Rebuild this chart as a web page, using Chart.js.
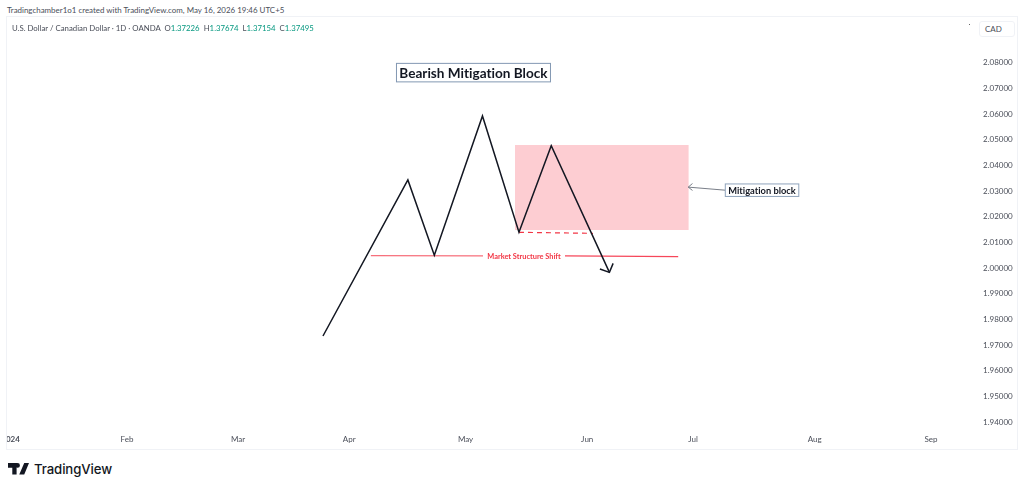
<!DOCTYPE html>
<html>
<head>
<meta charset="utf-8">
<script src="https://cdn.jsdelivr.net/npm/chart.js@4"></script>
<style>
    html, body { margin: 0; padding: 0; background: #fff; width: 1024px; height: 489px; overflow: hidden; }
    body { font-family: Lato, sans-serif; position: relative; }
    #credit { position: absolute; left: 7px; top: 4px; font-size: 7.95px; line-height: 12px; color: #4a4e59; white-space: nowrap; }
    #frame { position: absolute; left: 6px; top: 16px; width: 1010px; height: 432px; border: 1px solid #f0f2f6; }
    #chartBox { position: absolute; left: 0; top: 0; width: 1010px; height: 432px; }
    #legend { position: absolute; left: 12px; top: 22px; font-size: 7.8px; line-height: 12px; color: #4a4e59; white-space: pre; }
    #legend b { font-weight: normal; color: #089981; }
    #currency { position: absolute; left: 979px; top: 21px; width: 36px; height: 16px; box-sizing: border-box; border: 1px solid #f0f2f6; border-radius: 3px; font-size: 8px; line-height: 14px; color: #4a4e59; padding-left: 5px; background: #fff; }
    #dot { position: absolute; left: 969px; top: 24px; width: 1px; height: 1px; background: #666; }
    #logo { position: absolute; left: 8px; top: 460px; height: 18px; color: #131722; }
    #logo svg { position: absolute; left: 0; top: 3px; }
    #logo span { position: absolute; left: 26px; top: 0; font-family: Inter, sans-serif; font-size: 13.2px; line-height: 18px; font-weight: 500; letter-spacing: -0.1px; }
</style>
</head>
<body>
<div id="credit">Tradingchamber1o1 created with TradingView.com, May 16, 2026 19:46 UTC+5</div>
<div id="frame"><div id="chartBox"><canvas id="priceGraph"></canvas></div></div>
<div id="legend"></div>
<div id="currency">CAD</div>
<div id="dot"></div>
<div id="logo">
    <svg width="21" height="11.500" viewBox="0 0 22 12"><path fill="#131722" d="M0 0h9v12H4.500V5H0zM17 0h5l-5 12h-5.200zM10 0a2.500 2.500 0 1 1 0 5a2.500 2.500 0 0 1 0-5z"/></svg>
    <span>TradingView</span>
</div>
<script>
// x is the bar index on the chart (trading days since the start of 2024)
const monthTicks = [1, 23, 44, 65, 87, 110, 130, 153, 175]
const monthLabels = ["2024", "Feb", "Mar", "Apr", "May", "Jun", "Jul", "Aug", "Sep"]
const priceTicks = [2.08, 2.07, 2.06, 2.05, 2.04, 2.03, 2.02, 2.01, 2.00, 1.99, 1.98, 1.97, 1.96, 1.95, 1.94]

const swingX = [60.05, 76.1, 81.1, 90.2, 97.1, 103.2, 114.2]
const swingY = [1.9735, 2.0343, 2.0050, 2.0592, 2.0139, 2.0476, 1.9983]
const arrowX = [112.4, 114.2, 114.9]
const arrowY = [1.9996, 1.9983, 2.0018]

const blockX = [96.35, 129.2]
const blockTop = 2.0479
const blockBottom = 2.0148

const shiftLeftX = [69.1, 90.3]
const shiftLeftY = [2.0048, 2.0047]
const shiftRightX = [105.8, 127.2]
const shiftRightY = [2.0047, 2.0044]
const dashX = [97.1, 111.1]
const dashY = [2.0139, 2.0135]

const pointerX = [136.1, 129.1]
const pointerY = [2.0303, 2.0315]
const pointerHeadX = [129.9, 129.1, 129.9]
const pointerHeadY = [2.0329, 2.0315, 2.0302]

const ohlcNames = ["O", "H", "L", "C"]
const ohlcValues = ["1.37226", "1.37674", "1.37154", "1.37495"]

const xMin = 0.32
const xMax = 182.55
const yMin = 1.93688
const yMax = 2.09777

document.getElementById("legend").innerHTML = "U.S. Dollar / Canadian Dollar · 1D · OANDA  " +
    ohlcNames.map((n, i) => n + "<b>" + ohlcValues[i] + "</b>").join("  ")

const zip = (xs, ys) => xs.map((x, i) => ({ x: x, y: Array.isArray(ys) ? ys[i] : ys }))

function lineSet(xs, ys, color, width, extra) {
    return Object.assign({
        data: zip(xs, ys),
        borderColor: color,
        borderWidth: width,
        pointRadius: 0,
        tension: 0,
        fill: false
    }, extra)
}

// chart.js pads the scales for the tick labels, the chart here runs right up to the panel edges
function noPadding(scale) {
    scale.paddingLeft = scale.paddingRight = scale.paddingTop = scale.paddingBottom = 0
}

const labelNotes = [
    { text: "Bearish Mitigation Block", x: 88.5, y: 2.0761, font: "bold 13.6px Lato", color: "#131722", w: 154, h: 18.5, border: "#8398b3" },
    { text: "Mitigation block", x: 143.05, y: 2.0303, font: "bold 9.3px Lato", color: "#131722", w: 73.5, h: 12.5, border: "#8fa3bb" },
    { text: "Market Structure Shift", x: 98.05, y: 2.0046, font: "bold 7.4px Lato", color: "#f23645", w: 0, h: 0 }
]

const notesPlugin = {
    id: "notes",
    afterDatasetsDraw(chart) {
        const ctx = chart.ctx
        ctx.save()
        ctx.textAlign = "center"
        ctx.textBaseline = "middle"
        ctx.textRendering = "optimizeSpeed" // no "ti" ligature
        labelNotes.forEach(n => {
            const px = chart.scales.x.getPixelForValue(n.x)
            const py = chart.scales.y.getPixelForValue(n.y)
            if (n.w) {
                ctx.fillStyle = "#fff"
                ctx.strokeStyle = n.border
                ctx.lineWidth = 1
                ctx.fillRect(px - n.w / 2, py - n.h / 2, n.w, n.h)
                ctx.strokeRect(px - n.w / 2, py - n.h / 2, n.w, n.h)
            }
            ctx.font = n.font
            ctx.fillStyle = n.color
            ctx.fillText(n.text, px, py + 0.5)
        })
        ctx.restore()
    }
}

new Chart("priceGraph", {
    type: "line",
    plugins: [notesPlugin],
    data: {
        // first dataset ends up on top
        datasets: [
            lineSet(arrowX, arrowY, "#131722", 1.5),
            lineSet(swingX, swingY, "#131722", 1.5),
            lineSet(pointerHeadX, pointerHeadY, "#6a6f7a", 0.9),
            lineSet(pointerX, pointerY, "#6a6f7a", 0.9),
            lineSet(dashX, dashY, "#f23645", 1.2, { borderDash: [5, 4] }),
            lineSet(shiftRightX, shiftRightY, "#f6475a", 1.2),
            lineSet(shiftLeftX, shiftLeftY, "#f7707c", 1.2),
            lineSet(blockX, blockTop, "rgba(0,0,0,0)", 0, { backgroundColor: "#fdcdd2", fill: { value: blockBottom } })
        ]
    },
    options: {
        responsive: true,
        maintainAspectRatio: false,
        animation: false,
        layout: { padding: 0, autoPadding: false },
        plugins: { legend: { display: false }, tooltip: { enabled: false } },
        scales: {
            x: {
                type: "linear",
                min: xMin,
                max: xMax,
                afterFit: scale => { scale.height = 19; noPadding(scale) },
                afterBuildTicks: scale => { scale.ticks = monthTicks.map(v => ({ value: v })) },
                grid: { display: false, drawTicks: false },
                border: { display: false },
                ticks: {
                    autoSkip: false,
                    maxRotation: 0,
                    padding: 5,
                    color: "#4a4e59",
                    font: ctx => ({ family: "Lato", size: 8, weight: ctx.index === 0 ? "bold" : "normal" }),
                    callback: (v, i) => monthLabels[i]
                }
            },
            y: {
                position: "right",
                min: yMin,
                max: yMax,
                afterFit: scale => { scale.width = 46; noPadding(scale) },
                afterBuildTicks: scale => { scale.ticks = priceTicks.map(v => ({ value: v })) },
                grid: { display: false, drawTicks: false },
                border: { display: false },
                ticks: {
                    autoSkip: false,
                    padding: 12,
                    color: "#4a4e59",
                    font: { family: "Lato", size: 8 },
                    callback: v => v.toFixed(5)
                }
            }
        }
    }
})
</script>
</body>
</html>
